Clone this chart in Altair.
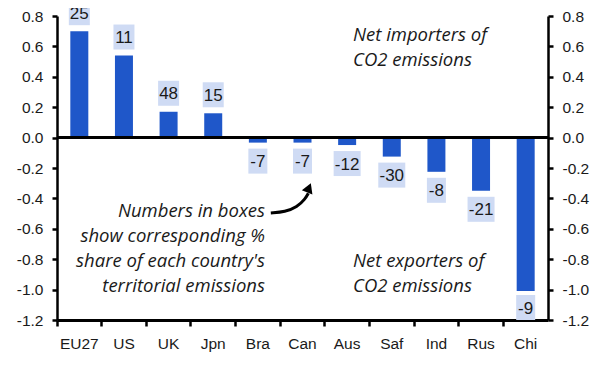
import altair as alt
import pandas as pd

# ---- data ----
countries = ["EU27", "US", "UK", "Jpn", "Bra", "Can", "Aus", "Saf", "Ind", "Rus", "Chi"]
net_transfer = [0.70, 0.54, 0.17, 0.16, -0.033, -0.033, -0.049, -0.125, -0.225, -0.35, -1.01]
share_pct = [25, 11, 48, 15, -7, -7, -12, -30, -8, -21, -9]

y_ticks = [-1.2, -1.0, -0.8, -0.6, -0.4, -0.2, 0.0, 0.2, 0.4, 0.6, 0.8]
y_min, y_max = -1.2, 0.8

# annotation arrow (category-index units, value units)
arrow_x = [4.79, 5.11, 5.38, 5.56, 5.63]
arrow_y = [-0.496, -0.489, -0.457, -0.404, -0.366]
arrow_head = {"x": 5.645, "y": -0.33}

# ---- layout ----
W, H = 491, 304
ppu = H / (y_max - y_min)
gap = 6 / ppu
bh = 25 / ppu

BLUE = "#1f57c9"
BOX = "#cfdbf4"
TXT = "#1a1a1a"
SANS = "Liberation Sans, Arial, sans-serif"

rows = []
for c, v, s in zip(countries, net_transfer, share_pct):
    if v >= 0:
        lo = v + gap
        hi = lo + bh
    else:
        hi = v - gap
        lo = hi - bh
        if lo < y_min:
            lo = y_min
            hi = lo + bh
    lab = str(s)
    digits = sum(ch.isdigit() for ch in lab)
    w = 5 + 8 * digits + (6 if lab.startswith("-") else 0)
    rows.append({"country": c, "value": v, "label": lab, "lo": lo, "hi": hi,
                 "mid": (lo + hi) / 2, "bw": w})
df = pd.DataFrame(rows)

xs = alt.Scale(domain=countries, paddingInner=0, paddingOuter=0)
ys = alt.Scale(domain=[y_min, y_max], nice=False, zero=False)

label_expr = "replace(format(datum.value, '.1f'), '\u2212', '-')"

def yaxis(orient):
    return alt.Axis(orient=orient, values=y_ticks, labelExpr=label_expr, grid=False,
                    title=None, domainColor="black", domainWidth=2.5, tickColor="black",
                    tickWidth=2.5, tickSize=5, labelFontSize=15.5, labelColor=TXT,
                    labelFont=SANS, labelPadding=9)

xaxis = alt.Axis(title=None, labelAngle=0, bandPosition=0, domainColor="black",
                 domainWidth=3, tickColor="black", tickWidth=2.5, tickSize=6,
                 labelFontSize=15.5, labelFont=SANS, labelColor=TXT, labelPadding=10,
                 labelBaseline="top", grid=False)

base = alt.Chart(df)

bars = base.mark_bar(color=BLUE, size=18).encode(
    x=alt.X("country:N", scale=xs, axis=xaxis, sort=countries),
    y=alt.Y("value:Q", scale=ys, axis=yaxis("left")),
)

right_axis = base.mark_bar(opacity=0).encode(
    x=alt.X("country:N", scale=xs, sort=countries, axis=None),
    y=alt.Y("value:Q", scale=ys, axis=yaxis("right")),
)

boxes = base.mark_bar(color=BOX).encode(
    x=alt.X("country:N", scale=xs, sort=countries, axis=None),
    y=alt.Y("lo:Q", scale=ys, axis=None),
    y2="hi:Q",
    size=alt.Size("bw:Q", scale=None, legend=None),
)

labels = base.mark_text(font=SANS, fontSize=17, color=TXT, baseline="middle", dy=1).encode(
    x=alt.X("country:N", scale=xs, sort=countries, axis=None),
    y=alt.Y("mid:Q", scale=ys, axis=None),
    text="label:N",
)

zero = alt.Chart(pd.DataFrame({"z": [0.0]})).mark_rule(color="black", strokeWidth=3).encode(
    y=alt.Y("z:Q", scale=ys, axis=None)
)

one = pd.DataFrame({"k": [0]})
ital = dict(font="Open Sans", fontStyle="italic", fontSize=18.5, color=TXT,
            baseline="alphabetic", lineHeight=25)
t_imp = alt.Chart(one).mark_text(align="left", **ital).encode(
    x=alt.value(296), y=alt.value(24.5),
    text=alt.value(["Net importers of", "CO2 emissions"]))
t_exp = alt.Chart(one).mark_text(align="left", **ital).encode(
    x=alt.value(296), y=alt.value(250.7),
    text=alt.value(["Net exporters of", "CO2 emissions"]))
t_num = alt.Chart(one).mark_text(align="right", **ital).encode(
    x=alt.value(208), y=alt.value(200.7),
    text=alt.value(["Numbers in boxes", "show corresponding %",
                    "share of each country's", "territorial emissions"]))

ax_scale = alt.Scale(domain=[0, len(countries)], nice=False, zero=False)
arrow_df = pd.DataFrame({"ix": arrow_x, "v": arrow_y})
arrow = alt.Chart(arrow_df).mark_line(color="black", strokeWidth=3, interpolate="basis").encode(
    x=alt.X("ix:Q", scale=ax_scale, axis=None),
    y=alt.Y("v:Q", scale=ys, axis=None),
)
head = alt.Chart(pd.DataFrame([arrow_head])).mark_point(
    shape="triangle-up", filled=True, color="black", opacity=1, size=130, angle=22
).encode(
    x=alt.X("x:Q", scale=ax_scale, axis=None),
    y=alt.Y("y:Q", scale=ys, axis=None),
)

chart = alt.layer(boxes, bars, right_axis, labels, zero, t_imp, t_exp, t_num, arrow, head).resolve_scale(
    x="independent"
).resolve_axis(y="independent", x="independent").properties(
    width=W, height=H, autosize="none",
    padding={"left": 49, "top": 8, "right": 53, "bottom": 42},
).configure_view(stroke=None)

chart.save("out.html", embed_options={"renderer": "svg", "actions": False})
